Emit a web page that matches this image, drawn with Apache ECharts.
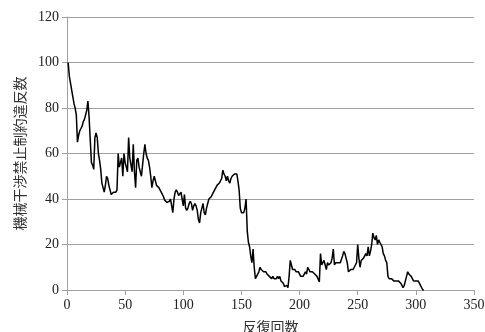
<!DOCTYPE html>
<html>
<head>
<meta charset="utf-8">
<script src="https://cdn.jsdelivr.net/npm/echarts@6/dist/echarts.min.js"></script>
<style>html,body{margin:0;padding:0;background:#fff;}#c{width:485px;height:332px;}</style>
</head>
<body>
<div id="c"></div>
<script>
var iterations = [];
for (var i = 1; i <= 307; i++) iterations.push(i);
var violations = [
100,94,94,88,85,82,80,77,65,68,
70,71,72,74,75,77,79,83,76,66,
56,55,53,67,69,67,60,57,53,47,
45,43,46,50,49,46,44,42,42,43,
43,43,44,60,54,56,58,50,60,56,
54,52,67,58,55,52,64,52,45,57,
58,54,52,50,55,60,64,60,58,57,
54,50,45,48,50,48,46,46,45,45,
43,42,41,39.5,39,38.5,38.5,39,40,40,
34,40,43,44,43,41.5,42,43,40,37,
42,36,35,36,38,39,38,35,37,38,
37,35,31,29.5,34,36,38,34,33,36,
38,40,40,41,42,43,44,45,46,46.5,
47,47.5,49,52.7,51,50,48,50,48,47,
49,50,50,51,51,51,48,44,36,34,
34,34,36,40,26,21,19,15,12,18,
10,5,6,7,8,10,9,9,8,8,
8,7,7,6,6,5,6,5,5,5,
6,5,6,4,4,3,1.5,1,2,1,
6,13,11,9,9,9,8,8,8,7,
6,6,6,7,8,7,10,9,8,8,
8,8,7,7,6,6,3.5,16,11,12,
13,11,9,12,11,11,12,14,18,11,
12,12,12,12,12,12,15,17,16,14,
12,8,8,9,9,9,10,11,12,20,
14,10,13,13,14,15,16,15,19,15,
17,20,25,23,22,24,20,22,21,20,
19,16,15,13,12,6,5,5,5,5,
4,4,4,4,4,4,3,2,1,2,
4,6,8,7,7,6,5,4,4,4,
4,4,3,2,1,0,0
];
var xTicks = [0,50,100,150,200,250,300,350];
var yTicks = [0,20,40,60,80,100,120];
var xTitle = '反復回数';
var yTitle = '機械干渉禁止制約違反数';

var pts = [];
for (var k = 0; k < violations.length; k++) pts.push([iterations[k], violations[k]]);

var chart = echarts.init(document.getElementById('c'), null, {renderer: 'canvas'});
var axisCol = '#a0a0a0';
chart.setOption({
  animation: false,
  backgroundColor: '#fff',
  grid: {left: 67, right: 11, top: 17, bottom: 42, containLabel: false, outerBoundsMode: 'none'},
  xAxis: {
    type: 'value', min: xTicks[0], max: xTicks[xTicks.length-1], interval: 50,
    name: xTitle, nameLocation: 'middle', nameGap: 30,
    nameTextStyle: {fontFamily: 'Noto Sans CJK JP', fontSize: 14, color: '#333'},
    axisLine: {show: true, lineStyle: {color: axisCol, width: 1}},
    axisTick: {show: true, length: 5, lineStyle: {color: axisCol}},
    axisLabel: {fontFamily: 'Liberation Serif', fontSize: 14, color: '#222', margin: 8},
    splitLine: {show: false}
  },
  yAxis: {
    type: 'value', min: yTicks[0], max: yTicks[yTicks.length-1], interval: 20,
    name: yTitle, nameLocation: 'middle', nameGap: 38, nameRotate: 90,
    nameTextStyle: {fontFamily: 'Noto Sans CJK JP', fontSize: 14, color: '#333'},
    axisLine: {show: true, lineStyle: {color: axisCol, width: 1}},
    axisTick: {show: true, length: 5, lineStyle: {color: axisCol}},
    axisLabel: {fontFamily: 'Liberation Serif', fontSize: 14, color: '#222', margin: 8},
    splitLine: {show: true, lineStyle: {color: axisCol, width: 1}}
  },
  series: [{
    type: 'line', data: pts, showSymbol: false, symbol: 'none',
    lineStyle: {color: '#000', width: 1.5}, silent: true
  }]
});
</script>
</body>
</html>
